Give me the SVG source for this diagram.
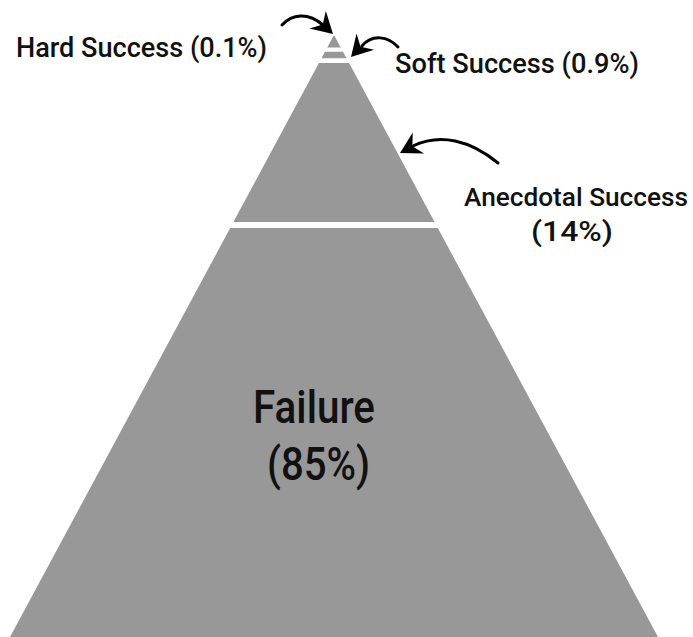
<svg xmlns="http://www.w3.org/2000/svg" width="693" height="637" viewBox="0 0 693 637">
<style>
.tier{fill:#989898;}
.lbl{font-family:Roboto,"Liberation Sans",sans-serif;font-weight:500;fill:#111;}
.conn{fill:none;stroke:#000;stroke-width:3;stroke-linecap:round;}
.head{fill:#000;}
</style>
<defs>
<path id="ah" d="M0,0 L-21,-12 L-14,0 L-21,12 Z"/>
</defs>
<rect width="693" height="637" fill="#fff"/>
<g id="hard-success">
<polygon class="tier" points="334,35 340.7,47.5 327.3,47.5"/>
<text class="lbl" x="16" y="57" font-size="28.5" textLength="251" lengthAdjust="spacingAndGlyphs">Hard Success (0.1%)</text>
</g>
<g id="soft-success">
<polygon class="tier" points="325,51.7 343,51.7 346.5,58.3 321.5,58.3"/>
<text class="lbl" x="395" y="73" font-size="28" textLength="244" lengthAdjust="spacingAndGlyphs">Soft Success (0.9%)</text>
</g>
<g id="anecdotal-success">
<polygon class="tier" points="318.9,63 349.1,63 434.6,222 233.4,222"/>
<text class="lbl" x="464" y="206" font-size="26.5" textLength="224" lengthAdjust="spacingAndGlyphs">Anecdotal Success</text>
<text class="lbl" x="531" y="241" font-size="28" textLength="82" lengthAdjust="spacingAndGlyphs">(14%)</text>
</g>
<g id="failure">
<polygon class="tier" points="230.2,228 437.8,228 658,637 10,637"/>
<text class="lbl" x="253" y="423" font-size="46" textLength="122" lengthAdjust="spacingAndGlyphs">Failure</text>
<text class="lbl" x="267" y="480" font-size="46" textLength="103" lengthAdjust="spacingAndGlyphs">(85%)</text>
</g>
<g id="connectors">
<path class="conn" d="M282,25 C292,14 308,12 323,25"/>
<use href="#ah" class="head" transform="translate(333,34) rotate(43)"/>
<path class="conn" d="M398,47 C388,36 372,34 362,46"/>
<use href="#ah" class="head" transform="translate(351,57) rotate(133)"/>
<path class="conn" d="M498,163 C470,140 440,133 413,146"/>
<use href="#ah" class="head" transform="translate(400,153) rotate(151.6)"/>
</g>
</svg>
